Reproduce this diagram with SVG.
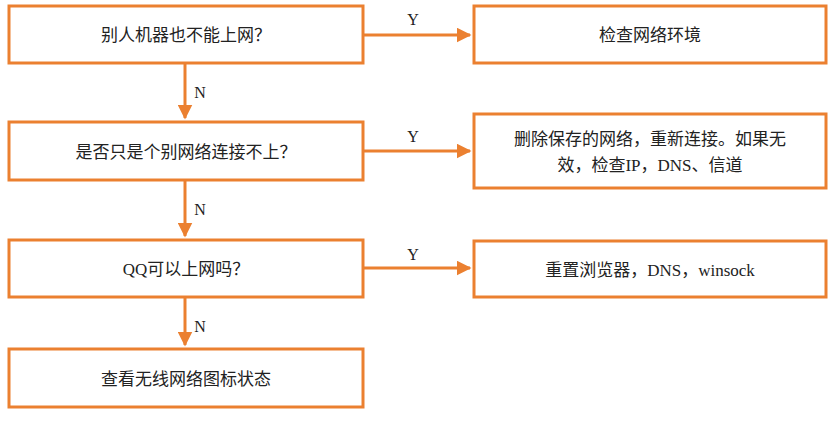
<svg xmlns="http://www.w3.org/2000/svg" width="836" height="423" viewBox="0 0 836 423">
<defs>
<style>
.b{fill:#fff;stroke:#EB8030;stroke-width:3}
.c{stroke:#EB8030;stroke-width:3;fill:none}
.t{font-family:"Liberation Serif","Noto Sans CJK SC",serif;font-size:17px;fill:#222;text-anchor:middle}
.l{font-family:"Liberation Serif",serif;font-size:16px;fill:#222;text-anchor:middle}
</style>
<marker id="a" viewBox="0 0 10 10" refX="9" refY="5" markerWidth="5" markerHeight="5" orient="auto" markerUnits="strokeWidth"><path d="M0,0L10,5L0,10z" fill="#EB8030"/></marker>
</defs>
<g id="n1"><rect class="b" x="9" y="6" width="354" height="57"/><text class="t" x="186" y="41">别人机器也不能上网？</text></g>
<g id="r1"><rect class="b" x="474" y="6" width="352" height="57"/><text class="t" x="650" y="41">检查网络环境</text></g>
<g id="n2"><rect class="b" x="9" y="122" width="354" height="58"/><text class="t" x="186" y="158">是否只是个别网络连接不上？</text></g>
<g id="r2"><rect class="b" x="474" y="114" width="352" height="74"/><text class="t" x="650" y="145">删除保存的网络，重新连接。如果无</text><text class="t" x="650" y="171">效，检查IP，DNS、信道</text></g>
<g id="n3"><rect class="b" x="9" y="240" width="354" height="57"/><text class="t" x="186" y="275">QQ可以上网吗？</text></g>
<g id="r3"><rect class="b" x="474" y="241" width="352" height="56"/><text class="t" x="650" y="276">重置浏览器，DNS，winsock</text></g>
<g id="n4"><rect class="b" x="9" y="349" width="354" height="58"/><text class="t" x="186" y="385">查看无线网络图标状态</text></g>
<g id="edges">
<path class="c" d="M363,35H470" marker-end="url(#a)"/>
<path class="c" d="M363,151H470" marker-end="url(#a)"/>
<path class="c" d="M363,268H470" marker-end="url(#a)"/>
<path class="c" d="M185,63V118" marker-end="url(#a)"/>
<path class="c" d="M185,180V236" marker-end="url(#a)"/>
<path class="c" d="M185,297V345" marker-end="url(#a)"/>
<text class="l" x="413" y="25">Y</text>
<text class="l" x="413" y="142">Y</text>
<text class="l" x="413" y="260">Y</text>
<text class="l" x="200" y="98">N</text>
<text class="l" x="200" y="215">N</text>
<text class="l" x="200" y="332">N</text>
</g>
</svg>
